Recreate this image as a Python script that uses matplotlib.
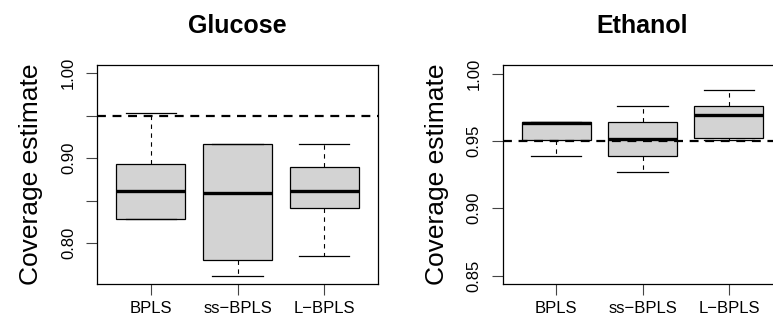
import matplotlib
matplotlib.use("Agg")
import matplotlib.pyplot as plt

plt.rcParams['font.family'] = ['Liberation Sans', 'DejaVu Sans']

methods = ["BPLS", "ss\u2212BPLS", "L\u2212BPLS"]
nominal = 0.95

# glucose panel: per-method box stats
glu_whislo = [0.829, 0.762, 0.785]
glu_q1 = [0.829, 0.780, 0.8415]
glu_med = [0.861, 0.8595, 0.8615]
glu_q3 = [0.893, 0.9165, 0.890]
glu_whishi = [0.953, 0.9165, 0.9165]
glu_yticks = [0.80, 0.85, 0.90, 0.95, 1.00]
glu_ylabels = ["0.80", "", "0.90", "", "1.00"]

# ethanol panel
eth_whislo = [0.9387, 0.9266, 0.951]
eth_q1 = [0.951, 0.9389, 0.9525]
eth_med = [0.9635, 0.9518, 0.9696]
eth_q3 = [0.9638, 0.9643, 0.9762]
eth_whishi = [0.9638, 0.9762, 0.988]
eth_yticks = [0.85, 0.90, 0.95, 1.00]
eth_ylabels = ["0.85", "0.90", "0.95", "1.00"]


def make_stats(lo, q1, med, q3, hi):
    stats = []
    for i in range(len(lo)):
        stats.append(dict(whislo=lo[i], q1=q1[i], med=med[i], q3=q3[i],
                          whishi=hi[i], fliers=[]))
    return stats


def draw_panel(ax, title, stats, ylim, yticks, ylabels):
    ax.bxp(stats, positions=[1, 2, 3], widths=0.8, patch_artist=True,
           showfliers=False,
           boxprops=dict(facecolor="#d3d3d3", edgecolor="black", linewidth=0.9),
           medianprops=dict(color="black", linewidth=2.4),
           whiskerprops=dict(color="black", linewidth=0.8, linestyle=(0, (4, 4))),
           capprops=dict(color="black", linewidth=0.9),
           capwidths=0.58)
    ax.axhline(nominal, color="black", linewidth=1.6, linestyle=(0, (4, 3)), zorder=5)
    ax.set_xlim(0.38, 3.62)
    ax.set_ylim(*ylim)
    ax.set_xticks([1, 2, 3])
    ax.set_xticklabels(methods, fontsize=12)
    ax.set_yticks(yticks)
    ax.set_yticklabels(ylabels, fontsize=12, rotation=90, va="center")
    ax.tick_params(axis="both", length=8, width=0.8, color="#444444")
    ax.tick_params(axis="x", pad=4)
    ax.tick_params(axis="y", pad=7)
    ax.set_ylabel("Coverage estimate", fontsize=19, labelpad=13)
    ax.set_title(title, fontsize=18, fontweight="bold", pad=23)
    for s in ax.spines.values():
        s.set_linewidth(0.9)


fig = plt.figure(figsize=(7.73, 3.24), dpi=100)
ax1 = fig.add_axes([97 / 773, 40 / 324, 281 / 773, 219 / 324])
ax2 = fig.add_axes([502.5 / 773, 40 / 324, 280 / 773, 219 / 324])

draw_panel(ax1, "Glucose", make_stats(glu_whislo, glu_q1, glu_med, glu_q3, glu_whishi),
           (0.752, 1.0098), glu_yticks, glu_ylabels)
draw_panel(ax2, "Ethanol", make_stats(eth_whislo, eth_q1, eth_med, eth_q3, eth_whishi),
           (0.8438, 1.0064), eth_yticks, eth_ylabels)

fig.savefig("out.png", dpi=100)
